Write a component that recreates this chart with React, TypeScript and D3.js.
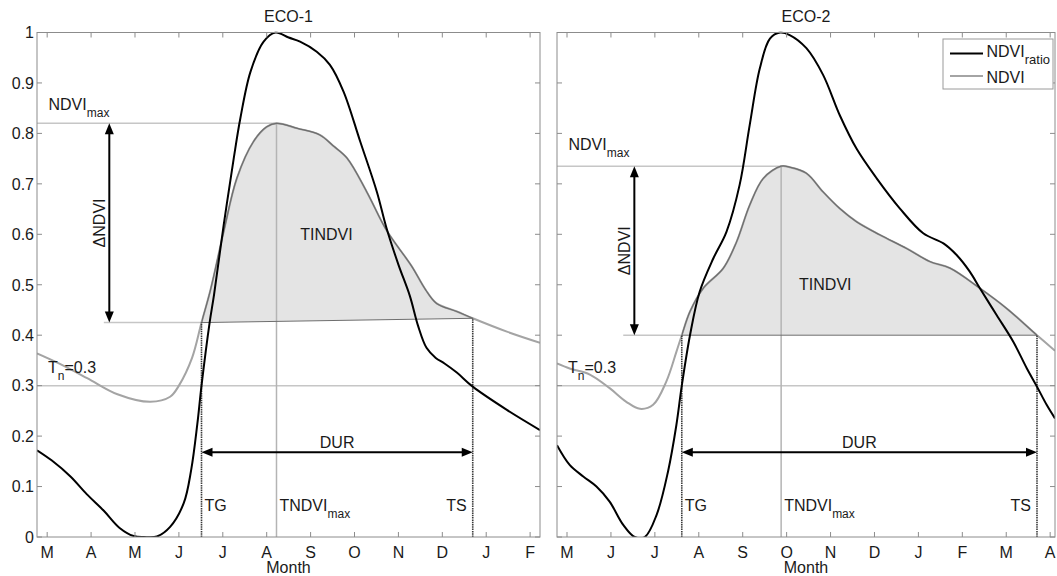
import React from 'react';
import * as d3 from 'd3';

// ---------- data ----------
const eco1Months = ['M', 'A', 'M', 'J', 'J', 'A', 'S', 'O', 'N', 'D', 'J', 'F'];
const eco2Months = ['M', 'J', 'J', 'A', 'S', 'O', 'N', 'D', 'J', 'F', 'M', 'A'];
const yTicks = [0, 0.1, 0.2, 0.3, 0.4, 0.5, 0.6, 0.7, 0.8, 0.9, 1];
const yTickLabels = ['0', '0.1', '0.2', '0.3', '0.4', '0.5', '0.6', '0.7', '0.8', '0.9', '1'];

// [month index (0 = first labelled tick), value]
const eco1Ndvi: [number, number][] = [
  [-0.232, 0.364], [0.22, 0.346], [0.91, 0.315], [1.6, 0.283], [2.35, 0.268], [2.8, 0.278],
  [3.0, 0.3], [3.3, 0.355], [3.515, 0.425], [3.72, 0.49], [4.02, 0.605], [4.32, 0.711],
  [4.7, 0.784], [5.0, 0.813], [5.223, 0.82], [5.7, 0.81], [6.21, 0.797], [6.52, 0.775],
  [6.83, 0.751], [7.28, 0.684], [7.73, 0.608], [8.3, 0.537], [8.62, 0.49], [8.87, 0.463],
  [9.33, 0.447], [9.693, 0.4335], [10.47, 0.407], [11.225, 0.385],
];
const eco1Ratio: [number, number][] = [
  [-0.232, 0.172], [0.1, 0.152], [0.53, 0.12], [0.9, 0.085], [1.29, 0.052], [1.65, 0.018],
  [1.97, 0.002], [2.2, 0], [2.5, 0.001], [2.8, 0.02], [3.11, 0.067], [3.28, 0.133],
  [3.42, 0.224], [3.515, 0.3], [3.7, 0.425], [3.8, 0.48], [4.02, 0.618], [4.25, 0.751],
  [4.4, 0.83], [4.63, 0.922], [4.93, 0.982], [5.2, 1.0], [5.5, 0.99], [5.76, 0.982],
  [6.14, 0.962], [6.44, 0.936], [6.75, 0.883], [7.13, 0.784], [7.51, 0.684], [7.73, 0.612],
  [8.0, 0.54], [8.26, 0.478], [8.45, 0.418], [8.64, 0.375], [8.85, 0.355], [9.05, 0.344],
  [9.33, 0.326], [9.693, 0.298], [10.47, 0.252], [11.225, 0.212],
];
const eco2Ndvi: [number, number][] = [
  [-0.228, 0.344], [0.06, 0.334], [0.52, 0.322], [0.97, 0.295], [1.35, 0.268], [1.66, 0.254],
  [1.96, 0.262], [2.26, 0.308], [2.49, 0.367], [2.613, 0.4], [2.8, 0.447], [3.1, 0.493],
  [3.56, 0.533], [3.86, 0.585], [4.16, 0.658], [4.47, 0.711], [4.875, 0.735], [5.07, 0.733],
  [5.45, 0.721], [5.83, 0.684], [6.21, 0.651], [6.59, 0.625], [7.12, 0.599], [7.73, 0.572],
  [8.26, 0.546], [8.72, 0.533], [9.4, 0.493], [10.01, 0.453], [10.7, 0.4], [11.11, 0.369],
];
const eco2Ratio: [number, number][] = [
  [-0.228, 0.182], [0.06, 0.143], [0.37, 0.12], [0.67, 0.1], [0.97, 0.07], [1.28, 0.024],
  [1.54, 0], [1.77, 0], [2.04, 0.044], [2.3, 0.13], [2.49, 0.222], [2.613, 0.3], [2.8, 0.4],
  [3.02, 0.486], [3.33, 0.552], [3.63, 0.605], [3.93, 0.698], [4.16, 0.817], [4.39, 0.929],
  [4.62, 0.988], [4.85, 1.0], [5.07, 0.995], [5.45, 0.969], [5.83, 0.916], [6.21, 0.836],
  [6.59, 0.77], [7.05, 0.711], [7.58, 0.651], [8.11, 0.602], [8.57, 0.582], [8.87, 0.559],
  [9.17, 0.526], [9.4, 0.493], [9.78, 0.44], [10.16, 0.387], [10.47, 0.334], [10.7, 0.298],
  [10.92, 0.262], [11.11, 0.235],
];

// phenology metrics: TG, TS, TNDVImax (months), NDVImax, base values at TG / TS
const eco1Metrics = [3.515, 9.693, 5.223, 0.82, 0.425, 0.4335];
const eco2Metrics = [2.613, 10.7, 4.875, 0.735, 0.4, 0.4];
const thresholdTn = 0.3;
const durLevel = 0.168;

// ---------- drawing ----------
const FONT = '"Liberation Sans", Arial, Helvetica, sans-serif';
const TXT = '#1a1a1a';
const AXIS = '#8c8c8c';
const LIGHT = '#c6c6c6';
const NDVI_C = '#a4a4a4';

type PanelCfg = {
  id: string;
  title: string;
  months: string[];
  ndvi: [number, number][];
  ratio: [number, number][];
  metrics: number[];
  domain: [number, number];
  range: [number, number];
  yLabels: boolean;
  legend: boolean;
  arrowX: number;
  baseStart: number;
  ndviLabelDy: number;
  tindvi: [number, number];
};

function Arrow({ x1, y1, x2, y2 }: { x1: number; y1: number; x2: number; y2: number }) {
  const L = 11, W = 4.5;
  const dx = x2 - x1, dy = y2 - y1;
  const len = Math.hypot(dx, dy);
  const ux = dx / len, uy = dy / len;
  const px = -uy, py = ux;
  const head = (tx: number, ty: number, dir: number) => {
    const bx = tx - dir * ux * L, by = ty - dir * uy * L;
    return `M${tx},${ty}L${bx + px * W},${by + py * W}L${bx - px * W},${by - py * W}Z`;
  };
  return (
    <g>
      <line x1={x1 + ux * (L - 1)} y1={y1 + uy * (L - 1)} x2={x2 - ux * (L - 1)} y2={y2 - uy * (L - 1)}
        stroke="#000" strokeWidth={2} />
      <path d={head(x1, y1, -1)} fill="#000" />
      <path d={head(x2, y2, 1)} fill="#000" />
    </g>
  );
}

function Panel({ cfg }: { cfg: PanelCfg }) {
  const x = d3.scaleLinear().domain(cfg.domain).range(cfg.range);
  const y = d3.scaleLinear().domain([0, 1]).range([537, 32.5]);
  const [xl, xr] = cfg.range;
  const yb = y(0), yt = y(1);
  const [tg, ts, tmax, nmax, bTG, bTS] = cfg.metrics;
  const baseAt = (t: number) => bTG + ((bTS - bTG) * (t - tg)) / (ts - tg);
  const curve = d3.curveCatmullRom.alpha(0.5);

  const line = d3.line<[number, number]>().x(d => x(d[0])).y(d => y(d[1])).curve(curve);
  const area = d3.area<[number, number]>()
    .x(d => x(d[0])).y0(d => y(baseAt(d[0]))).y1(d => y(d[1])).curve(curve);

  const monthIdx = cfg.months.map((_, i) => i);
  const cx = (xl + xr) / 2;
  const tick = 5;

  return (
    <g fontFamily={FONT} fill={TXT}>
      <defs>
        <clipPath id={`plot-${cfg.id}`}>
          <rect x={xl} y={yt - 1} width={xr - xl} height={yb - yt + 1} />
        </clipPath>
        <clipPath id={`season-${cfg.id}`}>
          <rect x={x(tg)} y={yt} width={x(ts) - x(tg)} height={yb - yt} />
        </clipPath>
      </defs>

      <text x={cx} y={22} fontSize={16} textAnchor="middle">{cfg.title}</text>

      <g clipPath={`url(#plot-${cfg.id})`}>
        {/* TINDVI area */}
        <path d={area(cfg.ndvi) || ''} fill="#e4e4e4" stroke="none" clipPath={`url(#season-${cfg.id})`} />

        {/* reference lines */}
        <line x1={xl} x2={xr} y1={y(thresholdTn)} y2={y(thresholdTn)} stroke={LIGHT} strokeWidth={1.5} />
        <line x1={xl} x2={x(tmax)} y1={y(nmax)} y2={y(nmax)} stroke={LIGHT} strokeWidth={1.5} />
        <line x1={x(cfg.baseStart)} x2={x(tg)} y1={y(bTG)} y2={y(bTG)} stroke={LIGHT} strokeWidth={1.5} />
        <line x1={x(tmax)} x2={x(tmax)} y1={yb} y2={y(nmax)} stroke="#b4b4b4" strokeWidth={1.5} />

        {/* NDVI curve */}
        <path d={line(cfg.ndvi) || ''} fill="none" stroke={NDVI_C} strokeWidth={2} />
        {/* outline of TINDVI polygon */}
        <path d={line(cfg.ndvi) || ''} fill="none" stroke="#6e6e6e" strokeWidth={1.2}
          clipPath={`url(#season-${cfg.id})`} />
        <line x1={x(tg)} x2={x(ts)} y1={y(bTG)} y2={y(bTS)} stroke="#6e6e6e" strokeWidth={1} />

        {/* TG / TS markers */}
        <line x1={x(tg)} x2={x(tg)} y1={yb} y2={y(bTG)} stroke="#3a3a3a" strokeWidth={1.6} strokeDasharray="1.5,0.8" />
        <line x1={x(ts)} x2={x(ts)} y1={yb} y2={y(bTS)} stroke="#3a3a3a" strokeWidth={1.6} strokeDasharray="1.5,0.8" />

        {/* NDVI ratio */}
        <path d={line(cfg.ratio) || ''} fill="none" stroke="#000" strokeWidth={2} />
      </g>

      {/* arrows */}
      <Arrow x1={x(cfg.arrowX)} y1={y(nmax)} x2={x(cfg.arrowX)} y2={y(bTG)} />
      <Arrow x1={x(tg)} y1={y(durLevel)} x2={x(ts)} y2={y(durLevel)} />

      {/* annotation text */}
      <text x={xl + 11.5} y={y(nmax) - cfg.ndviLabelDy} fontSize={16}>
        NDVI<tspan dy={7} fontSize={12}>max</tspan>
      </text>
      <text x={xl + 11} y={y(thresholdTn) - 12.5} fontSize={16}>
        T<tspan dy={7} fontSize={12}>n</tspan><tspan dy={-7}>=0.3</tspan>
      </text>
      <text transform={`translate(${x(cfg.arrowX) - 4},${(y(nmax) + y(bTG)) / 2}) rotate(-90)`}
        fontSize={16} textAnchor="middle">ΔNDVI</text>
      <text x={x(cfg.tindvi[0])} y={y(cfg.tindvi[1])} fontSize={16} textAnchor="middle">TINDVI</text>
      <text x={(x(tg) + x(ts)) / 2} y={y(durLevel) - 4.5} fontSize={16} textAnchor="middle">DUR</text>
      <text x={x(tg) + 3} y={511} fontSize={16}>TG</text>
      <text x={x(tmax) + 3} y={511} fontSize={16}>
        TNDVI<tspan dy={7} fontSize={12}>max</tspan>
      </text>
      <text x={x(ts) - 6} y={511} fontSize={16} textAnchor="end">TS</text>

      {/* axes box and ticks */}
      <rect x={xl} y={yt} width={xr - xl} height={yb - yt} fill="none" stroke={AXIS} strokeWidth={1} />
      {monthIdx.map(i => (
        <g key={`mt${i}`}>
          <line x1={x(i)} x2={x(i)} y1={yb} y2={yb - tick} stroke={AXIS} />
          <line x1={x(i)} x2={x(i)} y1={yt} y2={yt + tick} stroke={AXIS} />
          <text x={x(i)} y={557.5} fontSize={16} textAnchor="middle">{cfg.months[i]}</text>
        </g>
      ))}
      {yTicks.map((v, i) => (
        <g key={`yt${i}`}>
          <line x1={xl} x2={xl + tick} y1={y(v)} y2={y(v)} stroke={AXIS} />
          <line x1={xr} x2={xr - tick} y1={y(v)} y2={y(v)} stroke={AXIS} />
          {cfg.yLabels && (
            <text x={xl - 3} y={y(v)} dy="0.36em" fontSize={16} textAnchor="end">{yTickLabels[i]}</text>
          )}
        </g>
      ))}
      <text x={cx} y={572.5} fontSize={16} textAnchor="middle">Month</text>

      {cfg.legend && (
        <g>
          <rect x={943} y={39} width={110} height={50} fill="#fff" stroke="#9a9a9a" strokeWidth={1} />
          <line x1={950} x2={983} y1={53.5} y2={53.5} stroke="#000" strokeWidth={2} />
          <text x={986.5} y={57} fontSize={16}>
            NDVI<tspan dy={7} fontSize={13}>ratio</tspan>
          </text>
          <line x1={950} x2={983} y1={76} y2={76} stroke={NDVI_C} strokeWidth={2} />
          <text x={986.5} y={82.5} fontSize={16}>NDVI</text>
        </g>
      )}
    </g>
  );
}

const panels: PanelCfg[] = [
  {
    id: 'eco1', title: 'ECO-1', months: eco1Months, ndvi: eco1Ndvi, ratio: eco1Ratio,
    metrics: eco1Metrics, domain: [-0.232, 11.225], range: [37, 540], yLabels: true, legend: false,
    arrowX: 1.415, baseStart: 1.29, ndviLabelDy: 13.5, tindvi: [6.36, 0.588],
  },
  {
    id: 'eco2', title: 'ECO-2', months: eco2Months, ndvi: eco2Ndvi, ratio: eco2Ratio,
    metrics: eco2Metrics, domain: [-0.228, 11.11], range: [557, 1055], yLabels: false, legend: true,
    arrowX: 1.533, baseStart: 1.28, ndviLabelDy: 16, tindvi: [5.88, 0.49],
  },
];

export default function App() {
  return (
    <svg width={1057} height={576} viewBox="0 0 1057 576"
      style={{ position: 'absolute', left: 0, top: 0, background: '#fff' }}>
      <rect x={0} y={0} width={1057} height={576} fill="#fff" />
      {panels.map(p => <Panel key={p.id} cfg={p} />)}
    </svg>
  );
}
